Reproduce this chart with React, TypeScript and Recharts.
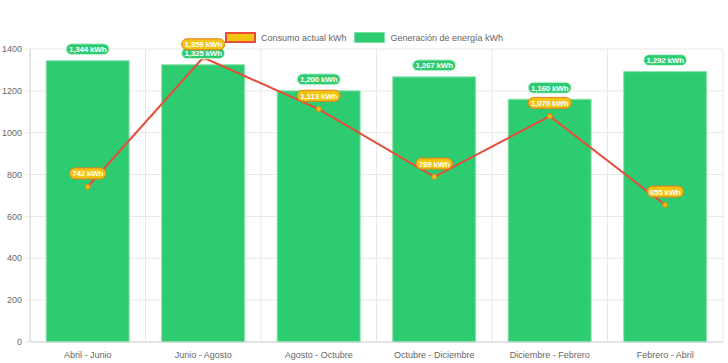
import React from 'react';
import {
  ComposedChart,
  Bar,
  Line,
  XAxis,
  YAxis,
  CartesianGrid,
  Legend,
  LabelList,
} from 'recharts';

const periods = [
  'Abril - Junio',
  'Junio - Agosto',
  'Agosto - Octubre',
  'Octubre - Diciembre',
  'Diciembre - Febrero',
  'Febrero - Abril',
];
const generation = [1344, 1325, 1200, 1267, 1160, 1292];
const consumption = [742, 1359, 1113, 789, 1079, 655];
const yTicks = [0, 200, 400, 600, 800, 1000, 1200, 1400];

const data = periods.map((period, i) => ({
  period,
  generation: generation[i],
  consumption: consumption[i],
}));

const FONT = '"Liberation Sans", Arial, Helvetica, sans-serif';

const fmt = (v: number) => `${v.toLocaleString('en-US')} kWh`;

// rough bold text width, liberation sans metrics
const textWidth = (s: string, size: number) => {
  let w = 0;
  for (const ch of s) {
    if (ch === ',' || ch === ' ') w += 0.278;
    else if (ch === 'W') w += 0.944;
    else if (ch === 'h') w += 0.611;
    else w += 0.556;
  }
  return w * size;
};

const Pill = ({ cx, cy, text, fill, stroke }: any) => {
  const size = 8;
  const w = textWidth(text, size) + 4;
  return (
    <g>
      <rect x={cx - w / 2} y={cy - 5.5} width={w} height={11} rx={5.5} fill={fill} stroke={stroke} strokeWidth={1} />
      <text
        x={cx}
        y={cy + 3}
        textAnchor="middle"
        fill="#fff"
        fontSize={size}
        fontWeight="bold"
        fontFamily={FONT}
        letterSpacing={-0.2}
      >
        {text}
      </text>
    </g>
  );
};

const BarLabel = (props: any) => {
  const { x, y, width, value } = props;
  return <Pill cx={x + width / 2} cy={y - 11.5} text={fmt(value)} fill="#2ecc71" stroke="#d5f5e2" />;
};

const LineLabel = (props: any) => {
  const { x, y, value } = props;
  return <Pill cx={x} cy={y - 13.3} text={fmt(value)} fill="#f1c40f" stroke="#e67e22" />;
};

const LegendContent = () => (
  <div
    style={{
      display: 'flex',
      justifyContent: 'center',
      alignItems: 'center',
      fontFamily: FONT,
      fontSize: 9,
      color: '#666',
    }}
  >
    <span
      style={{
        width: 31,
        height: 11,
        boxSizing: 'border-box',
        background: '#f1c40f',
        border: '2px solid #e74c3c',
        marginRight: 5,
      }}
    />
    <span style={{ marginRight: 8 }}>Consumo actual kWh</span>
    <span
      style={{
        width: 31,
        height: 11,
        boxSizing: 'border-box',
        background: '#2ecc71',
        border: '1px solid #7fe0a6',
        marginRight: 5,
      }}
    />
    <span>Generación de energía kWh</span>
  </div>
);

const boundaryLines = (props: any) => {
  const { offset } = props;
  const n = periods.length;
  return Array.from({ length: n + 1 }, (_, i) => offset.left + (i * offset.width) / n);
};

export default function App() {
  return (
    <div style={{ position: 'absolute', left: 0, top: 0, background: '#fff' }}>
      <ComposedChart
        width={728}
        height={363}
        data={data}
        barCategoryGap="14%"
        margin={{ top: 49, right: 5, bottom: 0, left: 0 }}
      >
        <CartesianGrid stroke="#e8e8e8" verticalCoordinatesGenerator={boundaryLines} />
        <XAxis
          dataKey="period"
          height={21}
          tickLine={false}
          tickSize={6}
          tickMargin={4}
          axisLine={{ stroke: '#d6d6d6' }}
          tick={{ fontSize: 9, fill: '#666', fontFamily: FONT }}
          interval={0}
        />
        <YAxis
          width={30}
          domain={[0, 1400]}
          ticks={yTicks}
          tickSize={5}
          tickMargin={3}
          tickLine={{ stroke: '#e8e8e8' }}
          axisLine={{ stroke: '#d6d6d6' }}
          tick={{ fontSize: 9, fill: '#666', fontFamily: FONT }}
        />
        <Legend
          layout="horizontal"
          verticalAlign="middle"
          align="center"
          content={<LegendContent />}
          wrapperStyle={{ top: 32, left: 0, width: 728, height: 12 }}
        />
        <Bar
          dataKey="generation"
          fill="#2ecc71"
          stroke="#8fe3b1"
          strokeWidth={1}
          isAnimationActive={false}
        >
          <LabelList dataKey="generation" content={<BarLabel />} />
        </Bar>
        <Line
          dataKey="consumption"
          type="linear"
          stroke="#e74c3c"
          strokeWidth={2}
          dot={{ r: 2.5, fill: '#f1c40f', stroke: '#e67e22', strokeWidth: 1 }}
          isAnimationActive={false}
        >
          <LabelList dataKey="consumption" content={<LineLabel />} />
        </Line>
      </ComposedChart>
    </div>
  );
}
